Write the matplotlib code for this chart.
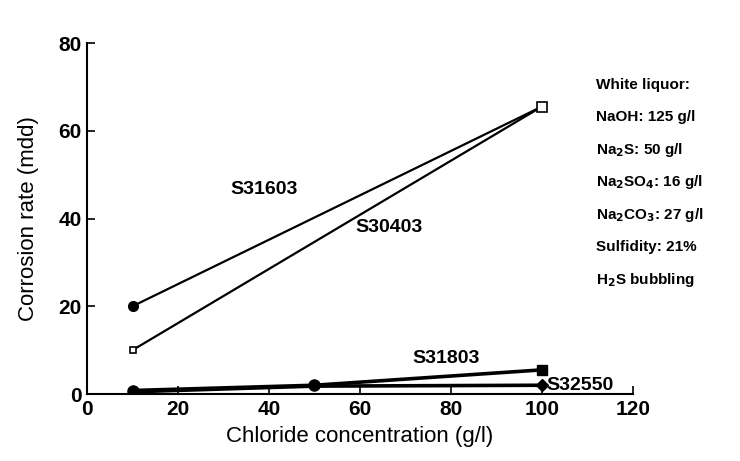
import matplotlib.pyplot as plt
import matplotlib

matplotlib.rcParams['font.family'] = 'Liberation Sans'
matplotlib.rcParams['mathtext.default'] = 'bf'

# Corrosion rate vs chloride in white liquor
chloride_high = [10, 100]
s31603_high = [20, 65.5]
s30403_high = [10, 65.5]

chloride_low = [10, 50, 100]
s31803_low = [0.8, 2.0, 5.5]
s32550_low = [0.5, 1.8, 2.0]

xticks = [0, 20, 40, 60, 80, 100, 120]
yticks = [0, 20, 40, 60, 80]

liquor_notes = ['White liquor:', 'NaOH: 125 g/l', 'Na$_2$S: 50 g/l',
                'Na$_2$SO$_4$: 16 g/l', 'Na$_2$CO$_3$: 27 g/l',
                'Sulfidity: 21%', 'H$_2$S bubbling']

fig = plt.figure(figsize=(7.4, 4.61), dpi=100)
ax = fig.add_axes([0.1176, 0.1453, 0.7375, 0.7614])

ax.plot(chloride_high, s31603_high, color='black', linewidth=1.6, zorder=3)
ax.plot(chloride_high[:1], s31603_high[:1], 'o', color='black', markersize=7)
ax.plot(chloride_high, s30403_high, color='black', linewidth=1.6, zorder=3)
ax.plot(chloride_high[:1], s30403_high[:1], 's', color='black',
        markerfacecolor='white', markersize=5, markeredgewidth=1.2, zorder=4)
ax.plot(chloride_high[1:], s30403_high[1:], 's', color='black',
        markerfacecolor='white', markersize=7, markeredgewidth=1.2, zorder=4)

ax.plot(chloride_low, s31803_low, color='black', linewidth=2.6)
ax.plot(chloride_low[:2], s31803_low[:2], 'o', color='black', markersize=8)
ax.plot(chloride_low[2:], s31803_low[2:], 's', color='black', markersize=7)
ax.plot(chloride_low, s32550_low, color='black', linewidth=2.6)
ax.plot(chloride_low[2:], s32550_low[2:], 'D', color='black', markersize=6)

label_style = dict(fontsize=14, fontweight='bold', va='center')
ax.text(39, 46.5, 'S31603', ha='center', **label_style)
ax.text(66.5, 38, 'S30403', ha='center', **label_style)
ax.text(79, 8, 'S31803', ha='center', **label_style)
ax.text(101, 1.9, 'S32550', ha='left', **label_style)

for i, line in enumerate(liquor_notes):
    ax.text(112, 70.5 - i * 7.4, line, fontsize=11, fontweight='bold',
            ha='left', va='center')

ax.set_xlim(0, 120)
ax.set_ylim(0, 80)
ax.set_xticks(xticks)
ax.set_yticks(yticks)
ax.tick_params(direction='in', length=6, width=1.2, labelsize=15, pad=4)
for lbl in ax.get_xticklabels() + ax.get_yticklabels():
    lbl.set_fontweight('bold')
ax.spines['top'].set_visible(False)
ax.spines['right'].set_visible(False)
ax.spines['left'].set_linewidth(1.5)
ax.spines['bottom'].set_linewidth(1.5)
ax.set_xlabel('Chloride concentration (g/l)', fontsize=16, labelpad=5)
ax.set_ylabel('Corrosion rate (mdd)', fontsize=16, labelpad=14)

fig.savefig('out.png', dpi=100)
